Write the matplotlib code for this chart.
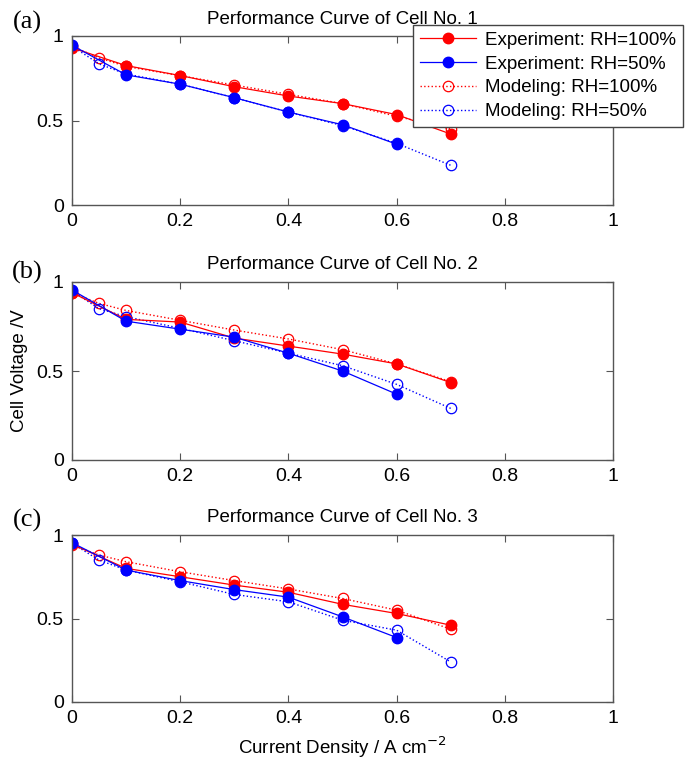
import matplotlib
matplotlib.use("Agg")
import matplotlib.pyplot as plt
from matplotlib.lines import Line2D

plt.rcParams['font.family'] = ['Liberation Sans', 'DejaVu Sans']

# ---- data ----
x_exp = [0.0, 0.1, 0.2, 0.3, 0.4, 0.5, 0.6, 0.7]
x_exp50 = [0.0, 0.1, 0.2, 0.3, 0.4, 0.5, 0.6]
x_mod = [0.0, 0.05, 0.1, 0.2, 0.3, 0.4, 0.5, 0.6, 0.7]

# Cell 1
c1_exp100 = [0.93, 0.825, 0.766, 0.70, 0.645, 0.60, 0.535, 0.42]
c1_exp50 = [0.945, 0.77, 0.715, 0.635, 0.55, 0.475, 0.36]
c1_mod100 = [0.94, 0.87, 0.82, 0.765, 0.71, 0.655, 0.60, 0.525, 0.45]
c1_mod50 = [0.94, 0.835, 0.775, 0.715, 0.635, 0.55, 0.47, 0.365, 0.235]

# Cell 2
c2_exp100 = [0.94, 0.79, 0.775, 0.685, 0.64, 0.595, 0.54, 0.435]
c2_exp50 = [0.955, 0.78, 0.735, 0.69, 0.60, 0.50, 0.37]
c2_mod100 = [0.94, 0.88, 0.84, 0.785, 0.73, 0.68, 0.62, 0.54, 0.44]
c2_mod50 = [0.95, 0.85, 0.805, 0.74, 0.67, 0.60, 0.53, 0.425, 0.29]

# Cell 3
c3_exp100 = [0.945, 0.80, 0.75, 0.70, 0.657, 0.585, 0.53, 0.46]
c3_exp50 = [0.954, 0.79, 0.727, 0.673, 0.628, 0.51, 0.386]
c3_mod100 = [0.94, 0.88, 0.84, 0.78, 0.727, 0.677, 0.62, 0.55, 0.436]
c3_mod50 = [0.95, 0.85, 0.79, 0.72, 0.644, 0.60, 0.49, 0.43, 0.24]

cells = [
    ("Performance Curve of Cell No. 1", "(a)", c1_exp100, c1_exp50, c1_mod100, c1_mod50),
    ("Performance Curve of Cell No. 2", "(b)", c2_exp100, c2_exp50, c2_mod100, c2_mod50),
    ("Performance Curve of Cell No. 3", "(c)", c3_exp100, c3_exp50, c3_mod100, c3_mod50),
]

legend_labels = ["Experiment: RH=100%", "Experiment: RH=50%",
                 "Modeling: RH=100%", "Modeling: RH=50%"]
xticks = [0, 0.2, 0.4, 0.6, 0.8, 1]
xticklabels = ["0", "0.2", "0.4", "0.6", "0.8", "1"]
yticks = [0, 0.5, 1]
yticklabels = ["0", "0.5", "1"]

W, H = 692, 763
fig = plt.figure(figsize=(W / 100, H / 100), dpi=100)

# axes boxes in pixels (top, bottom)
boxes = [(36, 205), (282, 460), (535, 702)]
left_px, right_px = 72, 613
label_y = [22, 272, 520]

fs = 13.5
tfs = 14
spine_col = '#555555'
axes = []
for i, ((title, tag, e100, e50, m100, m50), (t, b)) in enumerate(zip(cells, boxes)):
    ax = fig.add_axes([left_px / W, 1 - b / H, (right_px - left_px) / W, (b - t) / H])
    axes.append(ax)
    ax.plot(x_mod, m100, ls=':', color='red', lw=1.0, marker='o', ms=7.5,
            mfc='none', mec='red', mew=0.9)
    ax.plot(x_mod, m50, ls=':', color='blue', lw=1.0, marker='o', ms=7.5,
            mfc='none', mec='blue', mew=0.9)
    ax.plot(x_exp, e100, ls='-', color='red', lw=0.9, marker='o', ms=7.5,
            mfc='red', mec='red')
    ax.plot(x_exp50, e50, ls='-', color='blue', lw=0.9, marker='o', ms=7.5,
            mfc='blue', mec='blue')
    ax.set_xlim(0, 1)
    ax.set_ylim(0, 1)
    ax.set_xticks(xticks)
    ax.set_xticklabels(xticklabels)
    ax.set_yticks(yticks)
    ax.set_yticklabels(yticklabels)
    ax.tick_params(direction='in', top=True, right=True, length=5,
                   labelsize=tfs, color=spine_col, width=0.8, pad=6)
    for s in ax.spines.values():
        s.set_color(spine_col)
        s.set_linewidth(1.0)
    ax.set_title(title, fontsize=fs, pad=9)
    fig.text(27 / W, 1 - label_y[i] / H, tag, fontsize=19,
             family='Liberation Serif', ha='center', va='center')

axes[1].set_ylabel("Cell Voltage /V", fontsize=fs, labelpad=6)
axes[2].set_xlabel("Current Density / A cm$^{-2}$", fontsize=fs, labelpad=5)

handles = [
    Line2D([], [], ls='-', color='red', lw=0.9, marker='o', ms=7.5, mfc='red', mec='red'),
    Line2D([], [], ls='-', color='blue', lw=0.9, marker='o', ms=7.5, mfc='blue', mec='blue'),
    Line2D([], [], ls=':', color='red', lw=1.0, marker='o', ms=7.5, mfc='none', mec='red', mew=0.9),
    Line2D([], [], ls=':', color='blue', lw=1.0, marker='o', ms=7.5, mfc='none', mec='blue', mew=0.9),
]
leg = fig.legend(handles, legend_labels, loc='upper right',
                 bbox_to_anchor=(683 / W, 1 - 25 / H), fontsize=fs,
                 frameon=True, fancybox=False, framealpha=1, edgecolor='#444444',
                 handlelength=3.0, handletextpad=0.5, labelspacing=0.36,
                 borderpad=0.35, borderaxespad=0)
leg.get_frame().set_linewidth(1.0)

fig.savefig("out.png", dpi=100)
